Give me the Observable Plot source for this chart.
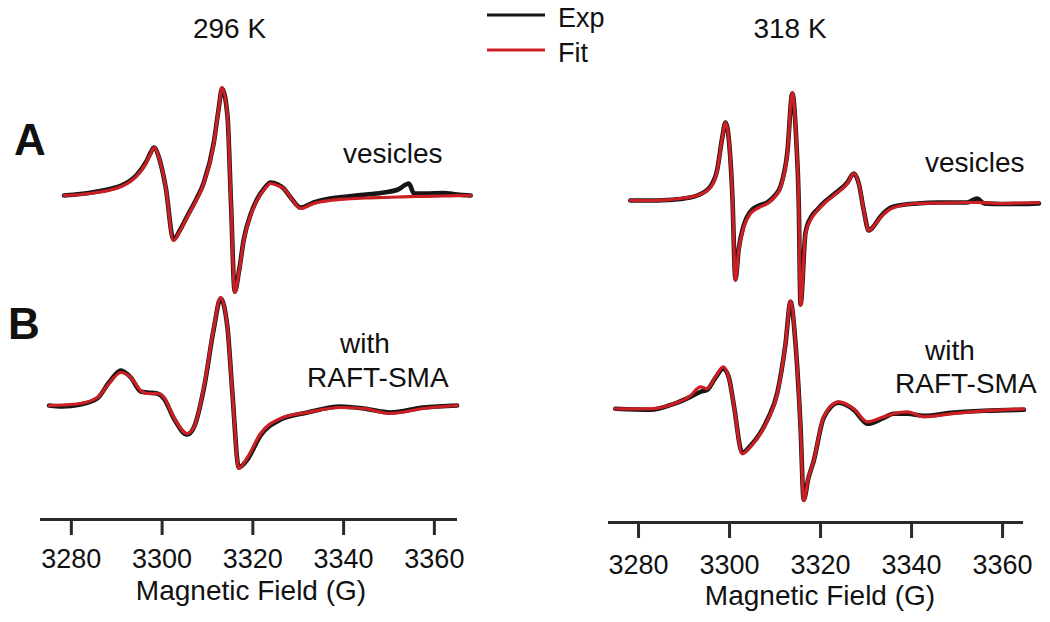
<!DOCTYPE html>
<html><head><meta charset="utf-8">
<script src="https://cdn.jsdelivr.net/npm/d3@7"></script>
<script src="https://cdn.jsdelivr.net/npm/@observablehq/plot@0.6"></script>
<style>
body{margin:0;background:#fff;}
#chart{position:relative;width:1050px;height:622px;overflow:hidden;background:#fff;}
#chart svg{position:absolute;top:0;}
</style></head><body><div id="chart"></div>
<script>
// ---------- data (magnetic field in G, derivative signal in arbitrary units) ----------
const tickValues = [3280, 3300, 3320, 3340, 3360];
const temperatures = ["296 K", "318 K"];
const seriesNames = ["Exp", "Fit"];
const sampleLabels = ["vesicles", "with", "RAFT-SMA"];
const panelLetters = ["A", "B"];
const axisTitle = "Magnetic Field (G)";

// 296 K, A: vesicles
const fieldA296 = [3278.4,3282,3285.7,3289,3291,3293,3294.5,3296.4,3297.5,3298.2,3299.3,3300.8,3302.5,3304,3305.5,3307.5,3309.2,3311.4,3312.5,3313.2,3314.4,3315.2,3316.0,3317,3318.0,3319.5,3320.9,3322.5,3323.9,3325.5,3326.8,3328.5,3330.5,3333.4,3337,3340.8,3345,3349,3352,3354.4,3355.5,3358,3362,3365,3368];
const fitA296   = [0,1,3,6,9,14,20,32,42,48,38,8,-45,-35,-22,-5,12,52,88,108,80,-10,-97,-75,-45,-20,-5,6,12,10,7,-3,-13,-8,-5,-3.5,-2.5,-2,-1.5,-1.2,-1,-0.8,-0.5,-0.2,0];
const expA296   = [0,1.5,4,7,10,15,21,33,43,48,38,8,-44,-34,-21,-4,13,53,88,107,80,-10,-96,-74,-44,-19,-4,7,13,11,7,-3,-12,-7,-3,-1,1,3,6,12,2,2,2.5,1,0];

// 296 K, B: with RAFT-SMA
const fieldB296 = [3275.1,3278,3282,3285.7,3288.3,3290.9,3293.1,3295.3,3296.7,3298.9,3300.4,3302.6,3305.5,3307.0,3309.2,3311.4,3312.9,3314.4,3315.5,3316.9,3318.8,3321.7,3326.1,3332.0,3339.3,3344.4,3350.3,3357.6,3365];
const fitB296   = [0,0.5,2,8,22,33,28,15,12,12,8,-12,-28,-22,18,78,108,78,12,-63,-52,-28,-13,-7,-2,-3,-8,-3,0];
const expB296   = [0,-1,1,7,23,35,28,14,13,12,7,-13,-29,-22,17,77,107,78,12,-62,-54,-30,-14,-7,-1,-3,-7,-2,0];

// 318 K, A: vesicles
const fieldA318 = [3278.2,3282,3286.3,3290,3292.9,3295.8,3297.3,3298.4,3299.1,3299.8,3300.6,3301.3,3302.0,3303.1,3304.6,3306.5,3308.3,3310,3311.2,3312.7,3313.8,3314.7,3315.2,3315.6,3316.7,3318,3319.3,3321,3322.9,3325.9,3327.3,3328.4,3329.5,3330.6,3331.8,3333.2,3336.1,3341.2,3346,3352.2,3354.4,3356,3359.6,3364,3368];
const fitA318   = [0,0,0.7,2.5,5,13,30,63,78,63,7,-80,-50,-27,-13,-7,-3,4,13,47,108,57,0,-105,-33,-18,-10,-2,5,17,27,17,-10,-30,-25,-17,-7,-3,-2.5,-2,-2,-2.2,-3,-2.5,-2];
const expA318   = [0,0,0.5,2,5,14,31,63,78,63,7,-79,-49,-25,-11,-5,-2,5,14,48,107,57,0,-104,-32,-16,-9,-1,6,18,27,17,-10,-30,-25,-16,-6,-3,-2,-2,2,-3,-3.5,-3.5,-3];

// 318 K, B: with RAFT-SMA
const fieldB318 = [3274.9,3282.6,3287.8,3291.4,3293.6,3295.1,3296.9,3298.6,3299.8,3300.9,3302.8,3304.6,3308.3,3310.5,3312.3,3313.4,3314.5,3315.6,3316.3,3317.3,3318.5,3320.7,3324.0,3327.3,3330.3,3333.9,3336,3339.1,3342.7,3348.6,3355.9,3364.7];
const fitB318   = [0,0,5,13,22,20,32,42,32,5,-45,-38,-12,15,65,108,65,-18,-92,-70,-52,-8,7,0,-13,-8,-5,-3,-8,-5,-2,0];
const expB318   = [0,-1,5,12,17,19,31,40,32,5,-44,-37,-11,16,65,107,65,-18,-91,-70,-52,-9,6,-1,-15,-9,-5,-5,-7,-4,-2,-1];

// ---------- layout / style ----------
const EXP = "#161616", FIT = "#cc1f24", INK = "#111";
const FONT = "'Liberation Sans', Arial, Helvetica, sans-serif";

function rows(field, values, offset) {
  return field.map((f, i) => ({field: f, value: values[i] + offset}));
}

function panel(cfg) {
  const marks = [];
  for (const s of cfg.series) {
    marks.push(Plot.line(rows(s.field, s.exp, s.offset), {x: "field", y: "value", stroke: EXP, strokeWidth: 4.6, curve: "monotone-x"}));
  }
  for (const s of cfg.series) {
    marks.push(Plot.line(rows(s.field, s.fit, s.offset), {x: "field", y: "value", stroke: FIT, strokeWidth: 3.2, curve: "monotone-x"}));
  }
  marks.push(Plot.ruleY([cfg.yDomain[0]], {stroke: "#2a2a2a", strokeWidth: 3}));
  marks.push(Plot.axisX({ticks: tickValues, tickFormat: d => String(d), tickSize: 16, tickPadding: cfg.tickPadding,
                         strokeWidth: 3, stroke: "#2a2a2a", fill: INK, fontSize: 27, label: null}));
  return Plot.plot({
    width: 525, height: 622,
    marginLeft: cfg.marginLeft, marginRight: cfg.marginRight, marginTop: 0, marginBottom: cfg.marginBottom,
    x: {domain: cfg.xDomain},
    y: {domain: cfg.yDomain, axis: null},
    style: {fontFamily: FONT, fontSize: "27px", color: INK, background: "transparent", overflow: "visible"},
    marks
  });
}

const chart = document.getElementById("chart");

const left = panel({
  xDomain: [3273.2, 3365.1], marginLeft: 40, marginRight: 68,
  yDomain: [-114, 405], marginBottom: 103, tickPadding: 13,
  series: [
    {field: fieldA296, fit: fitA296, exp: expA296, offset: 210},
    {field: fieldB296, fit: fitB296, exp: expB296, offset: 0}
  ]
});
left.style.left = "0px";
chart.appendChild(left);

const right = panel({
  xDomain: [3273.4, 3364.6], marginLeft: 83, marginRight: 27,
  yDomain: [-113.7, 408.3], marginBottom: 100, tickPadding: 16,
  series: [
    {field: fieldA318, fit: fitA318, exp: expA318, offset: 208.3},
    {field: fieldB318, fit: fitB318, exp: expB318, offset: 0}
  ]
});
right.style.left = "525px";
chart.appendChild(right);

// ---------- text overlay (titles, legend, labels) ----------
const ov = d3.create("svg").attr("width", 1050).attr("height", 622)
  .style("left", "0px").style("pointer-events", "none")
  .attr("font-family", FONT).attr("fill", INK);

const labels = [
  {t: temperatures[0], x: 229.5, y: 38, a: "middle", s: 28},
  {t: temperatures[1], x: 790, y: 38, a: "middle", s: 28},
  {t: seriesNames[0], x: 558, y: 27, a: "start", s: 27},
  {t: seriesNames[1], x: 558, y: 62, a: "start", s: 27},
  {t: panelLetters[0], x: 14, y: 155, a: "start", s: 44, w: "bold"},
  {t: panelLetters[1], x: 8, y: 339, a: "start", s: 44, w: "bold"},
  {t: sampleLabels[0], x: 343, y: 163, a: "start", s: 28},
  {t: sampleLabels[0], x: 925, y: 172, a: "start", s: 28},
  {t: sampleLabels[1], x: 340, y: 353, a: "start", s: 28},
  {t: sampleLabels[2], x: 307, y: 387, a: "start", s: 28},
  {t: sampleLabels[1], x: 925, y: 360, a: "start", s: 28},
  {t: sampleLabels[2], x: 895, y: 393, a: "start", s: 28},
  {t: axisTitle, x: 251, y: 600, a: "middle", s: 28},
  {t: axisTitle, x: 820, y: 605, a: "middle", s: 28}
];
for (const l of labels) {
  ov.append("text").attr("x", l.x).attr("y", l.y).attr("text-anchor", l.a)
    .attr("font-size", l.s).attr("font-weight", l.w || "normal").text(l.t);
}
ov.append("line").attr("x1", 487).attr("x2", 545).attr("y1", 15).attr("y2", 15).attr("stroke", EXP).attr("stroke-width", 3);
ov.append("line").attr("x1", 487).attr("x2", 545).attr("y1", 50).attr("y2", 50).attr("stroke", FIT).attr("stroke-width", 3);
chart.appendChild(ov.node());
</script></body></html>
